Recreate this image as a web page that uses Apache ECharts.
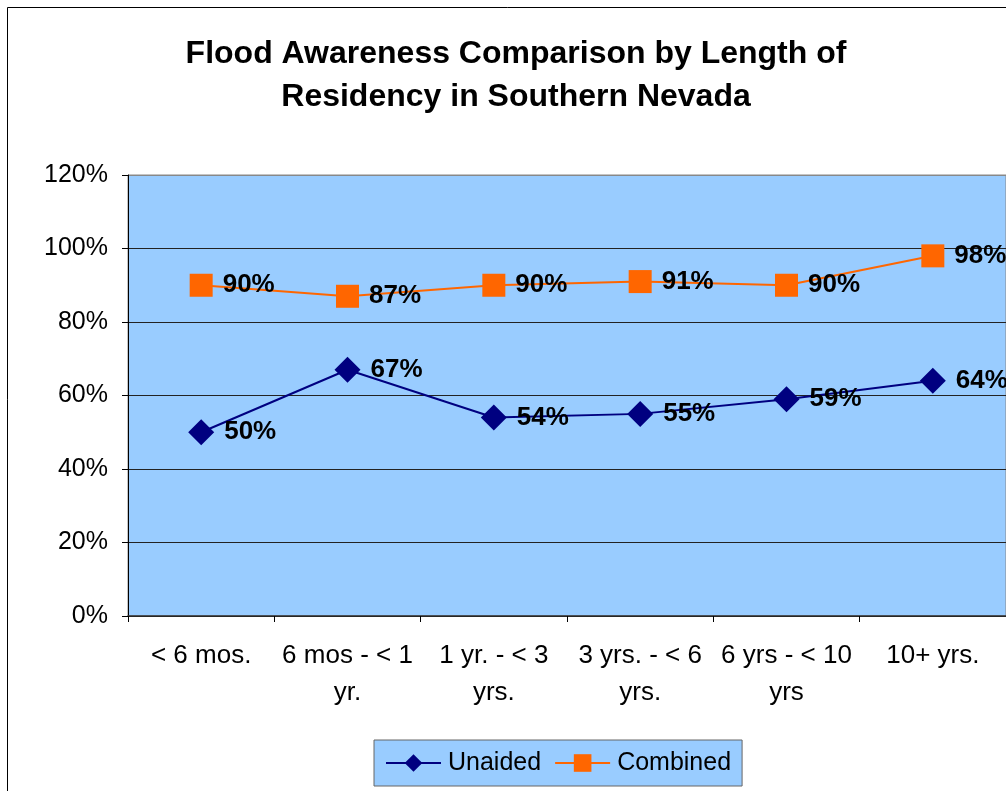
<!DOCTYPE html>
<html>
<head>
<meta charset="utf-8">
<script src="https://cdn.jsdelivr.net/npm/echarts@6/dist/echarts.min.js"></script>
<style>
  html, body { margin: 0; padding: 0; background: #fff; }
  #chart { width: 1006px; height: 791px; }
</style>
</head>
<body>
<div id="chart"></div>
<script>
// Length-of-residency groups (x axis)
const categories = ['< 6 mos.', '6 mos - < 1\nyr.', '1 yr. - < 3\nyrs.', '3 yrs. - < 6\nyrs.', '6 yrs - < 10\nyrs', '10+ yrs.'];
// Awareness percentages
const unaided = [50, 67, 54, 55, 59, 64];
const combined = [90, 87, 90, 91, 90, 98];
const seriesNames = ['Unaided', 'Combined'];

const FONT = 'Arial, "Liberation Sans", Helvetica, sans-serif';

const chart = echarts.init(document.getElementById('chart'), null, { renderer: 'canvas' });

const labelStyle = {
  show: true,
  position: 'right',
  distance: 10,
  formatter: '{c}%',
  color: '#000',
  fontFamily: FONT,
  fontWeight: 'bold',
  fontSize: 26
};

chart.setOption({
  animation: false,
  backgroundColor: '#fff',
  textStyle: { fontFamily: FONT },
  graphic: [{
    type: 'rect',
    shape: { x: 7.5, y: 7.5, width: 1020, height: 820 },
    style: { fill: 'none', stroke: '#000', lineWidth: 1 },
    silent: true,
    z: 100
  }],
  title: {
    text: 'Flood Awareness Comparison by Length of\nResidency in Southern Nevada',
    left: 511,
    top: 28,
    textAlign: 'center',
    textStyle: {
      fontFamily: FONT,
      fontWeight: 'bold',
      fontSize: 32,
      lineHeight: 43,
      color: '#000'
    }
  },
  legend: {
    data: seriesNames,
    left: 374,
    top: 740,
    orient: 'horizontal',
    backgroundColor: '#99CCFF',
    borderColor: '#666',
    borderWidth: 1,
    borderRadius: 0,
    padding: [10, 11, 10, 11],
    itemWidth: 55,
    itemHeight: 22,
    itemGap: 13,
    textStyle: {
      fontFamily: FONT,
      fontSize: 25,
      lineHeight: 26,
      color: '#000',
      padding: [0, 0, 0, 2]
    }
  },
  grid: {
    left: 128,
    top: 175,
    width: 882,
    height: 441,
    show: true,
    backgroundColor: '#99CCFF',
    borderColor: '#888',
    borderWidth: 1,
    containLabel: false
  },
  xAxis: {
    type: 'category',
    data: categories,
    boundaryGap: true,
    axisLine: { show: true, lineStyle: { color: '#333', width: 1.5 } },
    axisTick: { show: true, length: 6, lineStyle: { color: '#000' } },
    axisLabel: {
      interval: 0,
      margin: 21,
      fontFamily: FONT,
      fontSize: 26,
      lineHeight: 37,
      color: '#000'
    },
    splitLine: { show: false }
  },
  yAxis: {
    type: 'value',
    min: 0,
    max: 120,
    interval: 20,
    axisLine: { show: true, lineStyle: { color: '#000', width: 1 } },
    axisTick: { show: true, length: 6, lineStyle: { color: '#000' } },
    axisLabel: {
      formatter: '{value}%',
      margin: 20,
      fontFamily: FONT,
      fontSize: 25,
      color: '#000'
    },
    splitLine: {
      show: true,
      lineStyle: { color: ['#000', '#222', '#222', '#222', '#222', '#222', '#888'], width: 1 }
    }
  },
  series: [
    {
      name: seriesNames[0],
      type: 'line',
      data: unaided,
      symbol: 'diamond',
      symbolSize: [26, 26],
      itemStyle: { color: '#000080' },
      lineStyle: { color: '#000080', width: 2 },
      label: labelStyle,
      z: 3
    },
    {
      name: seriesNames[1],
      type: 'line',
      data: combined,
      symbol: 'rect',
      symbolSize: 23,
      itemStyle: { color: '#FF6600' },
      lineStyle: { color: '#FF6600', width: 2 },
      label: labelStyle,
      z: 3
    }
  ]
});
</script>
</body>
</html>
